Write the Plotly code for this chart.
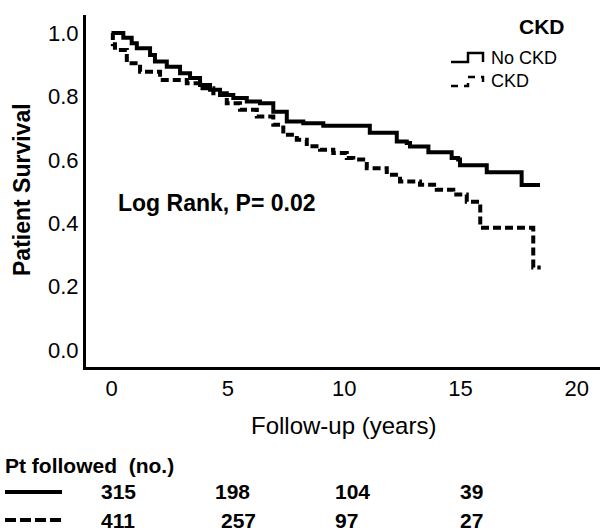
import plotly.graph_objects as go

# ---- data ----
no_ckd_t = [0, 0.5, 0.86, 1.08, 1.65, 1.86, 2.37, 2.94, 3.37, 3.8, 4.23, 4.66, 5.23, 5.81, 6.38,
            6.95, 7.53, 8.24, 9.1, 11.1, 12.26, 12.69, 12.83, 13.62, 14.62, 14.9, 14.98, 16.13,
            17.63, 18.42]
no_ckd_s = [1.0, 0.985, 0.968, 0.952, 0.931, 0.91, 0.894, 0.873, 0.858, 0.836, 0.821, 0.805, 0.795,
            0.784, 0.779, 0.752, 0.721, 0.716, 0.708, 0.686, 0.658, 0.653, 0.642, 0.624, 0.606,
            0.601, 0.583, 0.561, 0.521, 0.521]

ckd_t = [0, 0.05, 0.14, 0.65, 1.22, 2.08, 3.23, 3.8, 4.37, 4.95, 5.52, 6.24, 6.95, 7.38, 7.96,
         8.39, 8.96, 9.53, 10.11, 10.39, 10.97, 11.83, 12.4, 13.26, 13.98, 14.69, 15.27, 15.85,
         18.13, 18.45]
ckd_s = [1.0, 0.965, 0.947, 0.905, 0.878, 0.852, 0.842, 0.826, 0.810, 0.779, 0.758, 0.737, 0.711,
         0.679, 0.664, 0.643, 0.632, 0.622, 0.606, 0.601, 0.574, 0.553, 0.532, 0.522, 0.506,
         0.491, 0.468, 0.386, 0.261, 0.261]

x_ticks = [0, 5, 10, 15, 20]
y_ticks = [0.0, 0.2, 0.4, 0.6, 0.8, 1.0]
y_tick_labels = ["0.0", "0.2", "0.4", "0.6", "0.8", "1.0"]

series_names = ["No CKD", "CKD"]
at_risk_no_ckd = ["315", "198", "104", "39"]
at_risk_ckd = ["411", "257", "97", "27"]

annotation_text = "Log Rank, P= 0.02"
x_title = "Follow-up (years)"
y_title = "Patient Survival"
legend_title = "CKD"
table_title = "Pt followed\u00a0 (no.)"

# ---- layout helpers ----
W, H = 600, 531
L, R, T, B = 86, 0, 15, 164
PW, PH = W - L - R, H - T - B
FONT = "Arial, Liberation Sans, sans-serif"


def px(x):
    return (x - L) / PW


def py(y):
    return (H - B - y) / PH


fig = go.Figure()
fig.add_trace(go.Scatter(x=no_ckd_t, y=no_ckd_s, mode="lines", name=series_names[0],
                         line=dict(color="black", width=4, shape="hv"), showlegend=False))
fig.add_trace(go.Scatter(x=ckd_t, y=ckd_s, mode="lines", name=series_names[1],
                         line=dict(color="black", width=4, shape="hv", dash="8px,4px"),
                         showlegend=False))

fig.update_layout(
    width=W, height=H, margin=dict(l=L, r=R, t=T, b=B),
    paper_bgcolor="white", plot_bgcolor="white",
    font=dict(family=FONT, color="black", size=22),
    xaxis=dict(range=[-1.105, 21.0], tickvals=x_ticks, showgrid=False, zeroline=False,
               showline=True, linewidth=3, linecolor="black", ticks="",
               tickfont=dict(size=22, family=FONT)),
    yaxis=dict(range=[-0.053, 1.057], tickvals=y_ticks, ticktext=y_tick_labels,
               showgrid=False, zeroline=False, showline=True, linewidth=3,
               linecolor="black", ticks="", tickfont=dict(size=22, family=FONT)),
)

ann = []
ann.append(dict(x=0.18, y=0.464, xref="x", yref="y", text=f"<b>{annotation_text}</b>",
                showarrow=False, xanchor="left", yanchor="middle",
                font=dict(size=23, family=FONT)))
ann.append(dict(x=px(22), y=py(190), xref="paper", yref="paper", text=f"<b>{y_title}</b>",
                textangle=-90, showarrow=False, xanchor="center", yanchor="middle",
                font=dict(size=23, family=FONT)))
ann.append(dict(x=0.5, y=py(425), xref="paper", yref="paper", text=x_title,
                showarrow=False, xanchor="center", yanchor="middle",
                font=dict(size=24, family=FONT)))
# legend
ann.append(dict(x=px(542), y=py(26), xref="paper", yref="paper", text=f"<b>{legend_title}</b>",
                showarrow=False, xanchor="center", yanchor="middle",
                font=dict(size=21, family=FONT)))
ann.append(dict(x=px(489), y=py(58), xref="paper", yref="paper", text=series_names[0],
                showarrow=False, xanchor="left", yanchor="middle",
                font=dict(size=18, family=FONT)))
ann.append(dict(x=px(489), y=py(81), xref="paper", yref="paper", text=series_names[1],
                showarrow=False, xanchor="left", yanchor="middle",
                font=dict(size=18, family=FONT)))
# table
ann.append(dict(x=px(3), y=py(465), xref="paper", yref="paper", text=f"<b>{table_title}</b>",
                showarrow=False, xanchor="left", yanchor="middle",
                font=dict(size=21, family=FONT)))
col_x1 = [101, 215, 335, 460]
col_x2 = [101, 221, 335, 460]
for cx, v in zip(col_x1, at_risk_no_ckd):
    ann.append(dict(x=px(cx - 2), y=py(492), xref="paper", yref="paper", text=f"<b>{v}</b>",
                    showarrow=False, xanchor="left", yanchor="middle",
                    font=dict(size=21, family=FONT)))
for cx, v in zip(col_x2, at_risk_ckd):
    ann.append(dict(x=px(cx - 2), y=py(520), xref="paper", yref="paper", text=f"<b>{v}</b>",
                    showarrow=False, xanchor="left", yanchor="middle",
                    font=dict(size=21, family=FONT)))
fig.update_layout(annotations=ann)


def path(points):
    return "M " + " L ".join(f"{px(a):.5f},{py(b):.5f}" for a, b in points)


shapes = [
    dict(type="path", xref="paper", yref="paper",
         path=path([(451, 62), (468, 62), (468, 53), (483, 53), (483, 62)]),
         line=dict(color="black", width=2.5)),
    dict(type="path", xref="paper", yref="paper",
         path=path([(451, 86), (468, 86), (468, 77), (483, 77), (483, 86)]),
         line=dict(color="black", width=2.5, dash="7px,6px")),
    dict(type="line", xref="paper", yref="paper", x0=px(5), x1=px(62), y0=py(492), y1=py(492),
         line=dict(color="black", width=4)),
    dict(type="line", xref="paper", yref="paper", x0=px(5), x1=px(62), y0=py(520), y1=py(520),
         line=dict(color="black", width=4, dash="11px,4px")),
]
fig.update_layout(shapes=shapes)

fig.write_html("out.html")
